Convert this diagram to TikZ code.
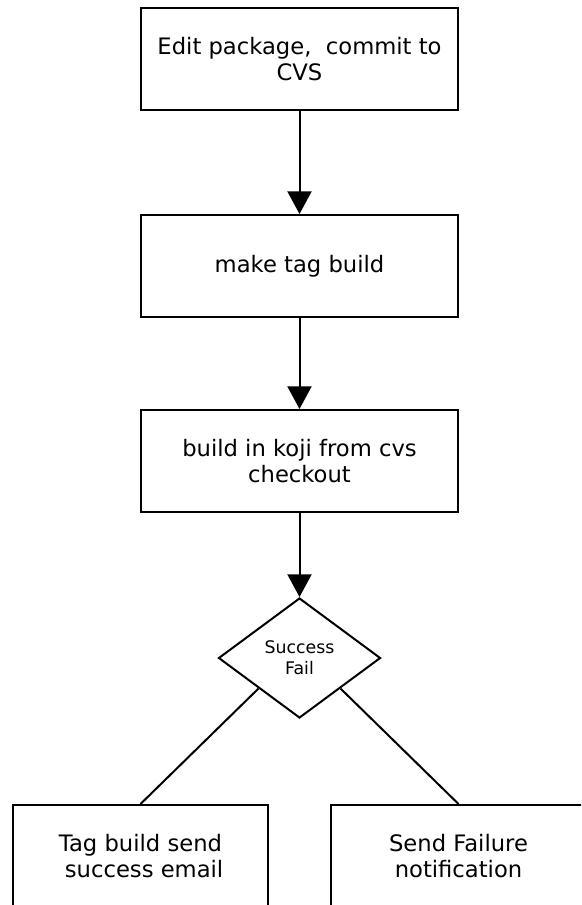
\documentclass[tikz,border=0pt]{standalone}
\usepackage{fontspec}
\setmainfont{DejaVu Sans}
\usetikzlibrary{arrows.meta,shapes.geometric}

\tikzset{
  stepbox/.style={draw,line width=1.5pt,minimum width=237.75pt,minimum height=76.5pt,
    align=center,inner sep=0pt,font=\fontsize{17}{19.5}\selectfont},
  endbox/.style={stepbox,minimum width=191.25pt},
  choice/.style={draw,diamond,line width=1.5pt,minimum width=121.5pt,minimum height=90pt,
    inner sep=0pt,align=center,font=\fontsize{13}{16}\selectfont},
  flow/.style={line width=1.5pt,-{Triangle[length=17pt,width=18pt]}},
  branch/.style={line width=1.5pt}
}

\begin{document}
\begin{tikzpicture}[x=0.75pt,y=-0.75pt]

\useasboundingbox (0,0) rectangle (581,905);
\clip (0,0) rectangle (581,905);

\node[stepbox] (edit) at (299.5,59) {Edit package,~ commit to\\CVS};
\node[stepbox] (tag) at (299.5,266) {make tag build};
\node[stepbox] (koji) at (299.5,461) {build in koji from cvs~\\checkout};

\node[choice] (result) at (299.5,658) {Success\\Fail};

\node[endbox] (success) at (140.5,856) {Tag build send\\~success email};
\node[endbox] (failure) at (458.5,856) {Send Failure\\notification};

\draw[flow] (edit) -- (tag);
\draw[flow] (tag) -- (koji);
\draw[flow] (koji) -- (result);

\draw[branch] (result.south west) -- (success.north);
\draw[branch] (result.south east) -- (failure.north);

\end{tikzpicture}
\end{document}
